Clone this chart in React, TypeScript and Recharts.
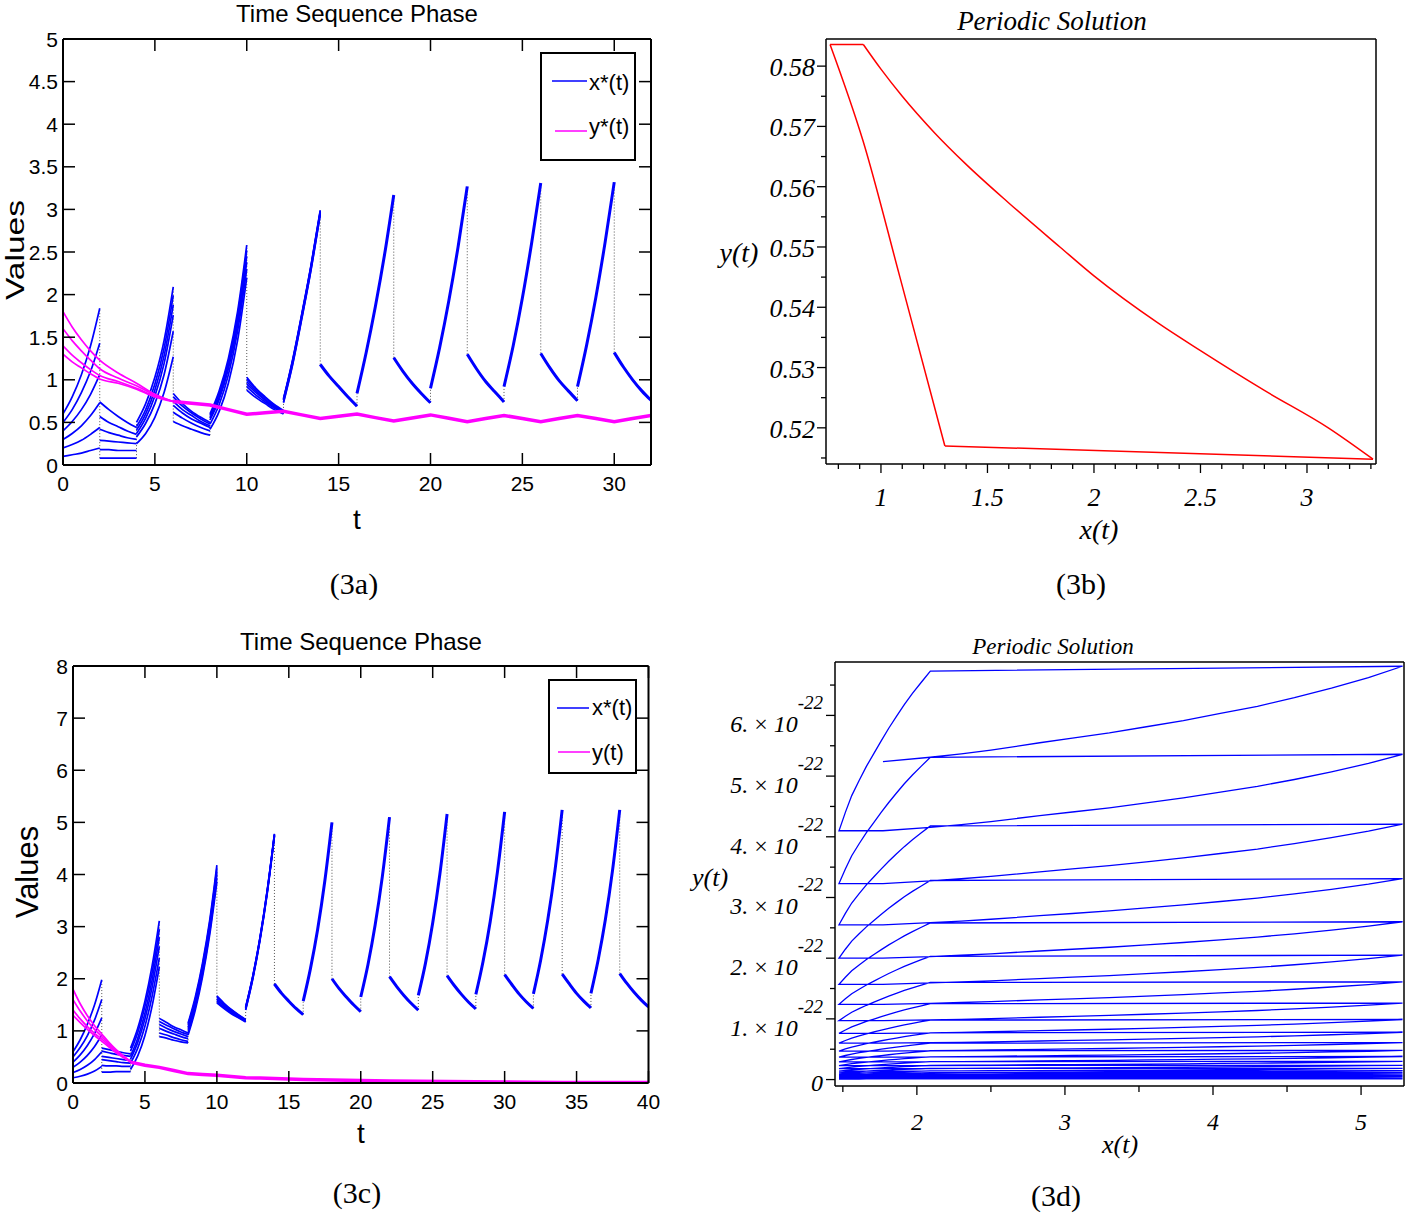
import React from 'react';
import { LineChart, Line, XAxis, YAxis } from 'recharts';

const SANS = '"Liberation Sans", Arial, Helvetica, sans-serif';
const SERIF = '"Liberation Serif", "Times New Roman", Times, serif';
const BLUE = '#0000ff';
const MAGENTA = '#ff00ff';
const RED = '#ff0000';
const DOT_GRAY = '#555555';

// sample offsets inside every 2-unit impulse interval
const SEG_STEPS = [0, 0.5, 1, 1.5, 2];

// ---------------- (3a) ----------------
const A_T_TICKS = [0, 5, 10, 15, 20, 25, 30];
const A_V_TICKS = [0, 0.5, 1, 1.5, 2, 2.5, 3, 3.5, 4, 4.5, 5];
const A_X_SEGMENTS = [
  { t0: 0, curves: [[0.60, 0.80, 1.06, 1.40, 1.84], [0.50, 0.65, 0.85, 1.10, 1.43], [0.40, 0.51, 0.65, 0.83, 1.06], [0.30, 0.37, 0.46, 0.58, 0.73], [0.20, 0.24, 0.29, 0.36, 0.44], [0.10, 0.12, 0.14, 0.17, 0.20]] },
  { t0: 2, curves: [[0.74, 0.65, 0.57, 0.50, 0.44], [0.57, 0.50, 0.45, 0.40, 0.36], [0.42, 0.38, 0.35, 0.32, 0.30], [0.29, 0.28, 0.27, 0.26, 0.25], [0.18, 0.18, 0.17, 0.17, 0.17], [0.08, 0.08, 0.08, 0.08, 0.08]] },
  { t0: 4, curves: [[0.50, 0.72, 1.03, 1.46, 2.09], [0.45, 0.65, 0.95, 1.37, 1.99], [0.41, 0.60, 0.88, 1.28, 1.88], [0.37, 0.55, 0.81, 1.19, 1.76], [0.33, 0.49, 0.72, 1.06, 1.57], [0.25, 0.37, 0.56, 0.85, 1.27]] },
  { t0: 6, curves: [[0.84, 0.72, 0.63, 0.56, 0.50], [0.80, 0.69, 0.61, 0.54, 0.48], [0.75, 0.65, 0.58, 0.51, 0.46], [0.70, 0.61, 0.54, 0.49, 0.44], [0.62, 0.55, 0.49, 0.44, 0.40], [0.51, 0.46, 0.42, 0.38, 0.35]] },
  { t0: 8, curves: [[0.60, 0.87, 1.25, 1.80, 2.58], [0.58, 0.84, 1.21, 1.75, 2.52], [0.55, 0.80, 1.17, 1.70, 2.45], [0.53, 0.77, 1.13, 1.64, 2.38], [0.48, 0.71, 1.06, 1.57, 2.30], [0.42, 0.63, 0.96, 1.46, 2.20]] },
  { t0: 10, curves: [[1.03, 0.90, 0.80, 0.71, 0.64], [1.01, 0.89, 0.79, 0.70, 0.63], [0.98, 0.87, 0.77, 0.69, 0.63], [0.95, 0.85, 0.76, 0.68, 0.62], [0.92, 0.82, 0.74, 0.67, 0.61], [0.88, 0.79, 0.72, 0.65, 0.60]] },
  { t0: 12, curves: [[0.78, 1.24, 1.78, 2.35, 2.99], [0.77, 1.23, 1.77, 2.34, 2.98], [0.77, 1.22, 1.76, 2.33, 2.97], [0.76, 1.21, 1.75, 2.32, 2.96], [0.74, 1.19, 1.73, 2.30, 2.95], [0.73, 1.18, 1.72, 2.29, 2.94]] },
  { t0: 14, curves: [[1.18, 1.04, 0.92, 0.80, 0.69]] },
  { t0: 16, curves: [[0.84, 1.32, 1.86, 2.47, 3.17]] },
  { t0: 18, curves: [[1.26, 1.10, 0.96, 0.84, 0.73]] },
  { t0: 20, curves: [[0.90, 1.38, 1.93, 2.56, 3.27]] },
  { t0: 22, curves: [[1.30, 1.13, 0.98, 0.86, 0.74]] },
  { t0: 24, curves: [[0.92, 1.40, 1.96, 2.60, 3.31]] },
  { t0: 26, curves: [[1.31, 1.14, 0.99, 0.87, 0.755]] },
  { t0: 28, curves: [[0.92, 1.41, 1.97, 2.61, 3.32]] },
  { t0: 30, curves: [[1.32, 1.15, 1.00, 0.87, 0.76]] },
];
const A_Y_T = [0, 0.5, 1, 1.5, 2, 3, 4, 5, 6];
const A_Y_CURVES = [
  [1.80, 1.62, 1.47, 1.34, 1.23, 1.08, 0.96, 0.83, 0.745],
  [1.60, 1.46, 1.34, 1.23, 1.13, 1.02, 0.93, 0.82, 0.745],
  [1.40, 1.29, 1.20, 1.12, 1.05, 0.98, 0.90, 0.81, 0.745],
  [1.30, 1.21, 1.14, 1.07, 1.01, 0.96, 0.89, 0.80, 0.745],
];
const A_Y_TAIL_T = [6, 7, 8, 9, 10, 11, 12, 13, 14, 15, 16, 17, 18, 19, 20, 21, 22, 23, 24, 25, 26, 27, 28, 29, 30, 31, 32];
const A_Y_TAIL = [0.745, 0.725, 0.705, 0.65, 0.595, 0.613, 0.63, 0.588, 0.545, 0.572, 0.597, 0.556, 0.516, 0.552, 0.588, 0.548, 0.509, 0.545, 0.582, 0.545, 0.509, 0.545, 0.582, 0.545, 0.509, 0.545, 0.582];

// ---------------- (3c) ----------------
const C_T_TICKS = [0, 5, 10, 15, 20, 25, 30, 35, 40];
const C_V_TICKS = [0, 1, 2, 3, 4, 5, 6, 7, 8];
const C_X_SEGMENTS = [
  { t0: 0, curves: [[0.60, 0.83, 1.13, 1.50, 1.98], [0.50, 0.68, 0.91, 1.21, 1.60], [0.40, 0.54, 0.72, 0.95, 1.25], [0.30, 0.40, 0.53, 0.70, 0.92], [0.20, 0.26, 0.34, 0.45, 0.60], [0.10, 0.13, 0.17, 0.23, 0.32]] },
  { t0: 2, curves: [[0.67, 0.64, 0.61, 0.58, 0.56], [0.61, 0.58, 0.55, 0.53, 0.51], [0.51, 0.49, 0.47, 0.45, 0.43], [0.45, 0.43, 0.41, 0.39, 0.38], [0.34, 0.33, 0.33, 0.32, 0.32], [0.21, 0.21, 0.22, 0.22, 0.22]] },
  { t0: 4, curves: [[0.67, 1.05, 1.57, 2.25, 3.11], [0.61, 0.97, 1.47, 2.12, 2.95], [0.52, 0.86, 1.34, 1.98, 2.80], [0.46, 0.78, 1.23, 1.84, 2.62], [0.38, 0.67, 1.09, 1.67, 2.40], [0.26, 0.52, 0.91, 1.48, 2.23]] },
  { t0: 6, curves: [[1.24, 1.16, 1.08, 1.02, 0.96], [1.18, 1.11, 1.04, 0.98, 0.93], [1.12, 1.05, 0.99, 0.94, 0.89], [1.05, 0.99, 0.94, 0.89, 0.85], [0.96, 0.92, 0.87, 0.83, 0.80], [0.89, 0.86, 0.82, 0.79, 0.77]] },
  { t0: 8, curves: [[1.15, 1.65, 2.30, 3.12, 4.18], [1.12, 1.61, 2.25, 3.07, 4.12], [1.07, 1.56, 2.20, 3.01, 4.06], [1.02, 1.51, 2.15, 2.96, 4.00], [0.96, 1.45, 2.09, 2.90, 3.93], [0.92, 1.40, 2.03, 2.84, 3.86]] },
  { t0: 10, curves: [[1.67, 1.53, 1.41, 1.31, 1.22], [1.65, 1.52, 1.40, 1.30, 1.21], [1.62, 1.49, 1.38, 1.29, 1.20], [1.60, 1.48, 1.37, 1.28, 1.19], [1.57, 1.45, 1.35, 1.26, 1.18], [1.54, 1.43, 1.33, 1.25, 1.17]] },
  { t0: 12, curves: [[1.46, 2.06, 2.80, 3.70, 4.78], [1.45, 2.05, 2.79, 3.69, 4.77], [1.44, 2.04, 2.78, 3.68, 4.76], [1.43, 2.03, 2.77, 3.67, 4.75], [1.41, 2.01, 2.75, 3.65, 4.74], [1.40, 2.00, 2.74, 3.64, 4.73]] },
  { t0: 14, curves: [[1.90, 1.72, 1.57, 1.43, 1.31]] },
  { t0: 16, curves: [[1.57, 2.19, 2.94, 3.87, 5.00]] },
  { t0: 18, curves: [[2.00, 1.81, 1.65, 1.50, 1.37]] },
  { t0: 20, curves: [[1.65, 2.27, 3.03, 3.96, 5.10]] },
  { t0: 22, curves: [[2.04, 1.85, 1.68, 1.53, 1.40]] },
  { t0: 24, curves: [[1.68, 2.30, 3.07, 4.01, 5.16]] },
  { t0: 26, curves: [[2.06, 1.87, 1.70, 1.55, 1.42]] },
  { t0: 28, curves: [[1.70, 2.33, 3.10, 4.05, 5.20]] },
  { t0: 30, curves: [[2.08, 1.89, 1.71, 1.56, 1.43]] },
  { t0: 32, curves: [[1.71, 2.35, 3.13, 4.08, 5.24]] },
  { t0: 34, curves: [[2.09, 1.90, 1.72, 1.57, 1.44]] },
  { t0: 36, curves: [[1.72, 2.36, 3.13, 4.08, 5.24]] },
  { t0: 38, curves: [[2.10, 1.91, 1.74, 1.59, 1.46]] },
];
const C_Y_T = [0, 0.5, 1, 1.5, 2, 2.5, 3, 3.5, 4];
const C_Y_CURVES = [
  [1.80, 1.52, 1.29, 1.10, 0.94, 0.78, 0.64, 0.52, 0.42],
  [1.60, 1.38, 1.19, 1.03, 0.89, 0.75, 0.62, 0.51, 0.41],
  [1.40, 1.23, 1.08, 0.95, 0.84, 0.72, 0.60, 0.50, 0.41],
  [1.30, 1.16, 1.03, 0.91, 0.80, 0.69, 0.58, 0.49, 0.40],
];
const C_Y_TAIL_T = [4, 5, 6, 7, 8, 9, 10, 11, 12, 13, 14, 16, 18, 20, 22, 24, 26, 28, 30, 32, 34, 36, 38, 40];
const C_Y_TAIL = [0.40, 0.34, 0.30, 0.24, 0.18, 0.165, 0.15, 0.125, 0.10, 0.095, 0.085, 0.068, 0.056, 0.046, 0.038, 0.032, 0.027, 0.022, 0.018, 0.015, 0.012, 0.010, 0.009, 0.008];

// ---------------- (3b) ----------------
const B_UPPER_X = [0.917, 1.0, 1.1, 1.25, 1.4, 1.6, 1.84, 2.0, 2.3, 2.5, 2.8, 3.1, 3.31];
const B_UPPER_Y = [0.5836, 0.5795, 0.5750, 0.5690, 0.5637, 0.5573, 0.5500, 0.5452, 0.5374, 0.5328, 0.5262, 0.5200, 0.5148];
const B_LEFT_X = [0.761, 0.915, 1.089, 1.30];
const B_LEFT_Y = [0.5836, 0.5677, 0.5450, 0.5170];
const B_X_TICKS = [0.8, 0.9, 1, 1.1, 1.2, 1.3, 1.4, 1.5, 1.6, 1.7, 1.8, 1.9, 2, 2.1, 2.2, 2.3, 2.4, 2.5, 2.6, 2.7, 2.8, 2.9, 3, 3.1, 3.2, 3.3];
const B_Y_TICKS = [0.515, 0.52, 0.525, 0.53, 0.535, 0.54, 0.545, 0.55, 0.555, 0.56, 0.565, 0.57, 0.575, 0.58];

// ---------------- (3d) ----------------  (y values in units of 10^-22)
const D_LEVEL_B = [5.24, 4.10, 3.23, 2.55, 2.00, 1.57, 1.24, 0.97, 0.76, 0.60, 0.47, 0.37, 0.29, 0.23, 0.18, 0.14, 0.11, 0.087, 0.068, 0.054, 0.042, 0.033, 0.026, 0.021, 0.016, 0.013, 0.010, 0.008];
const D_LEVEL_D = [6.81, 5.36, 4.21, 3.31, 2.60, 2.05, 1.61, 1.26, 0.99, 0.78, 0.61, 0.48, 0.38, 0.30, 0.235, 0.185, 0.145, 0.114, 0.090, 0.070, 0.055, 0.043, 0.034, 0.027, 0.021, 0.017, 0.013];
const D_LEVEL_A = [6.73, 5.31, 4.18, 3.28, 2.58, 2.03, 1.60, 1.25, 0.98, 0.77, 0.60, 0.475, 0.375, 0.295, 0.232, 0.183, 0.143, 0.113, 0.089, 0.069, 0.054, 0.042, 0.033, 0.026, 0.021, 0.016, 0.013];
const D_RISE_X = [1.771, 2.091, 2.3, 2.5, 2.83, 3.05, 3.3, 3.55, 3.8, 4.05, 4.3, 4.55, 4.8, 5.05, 5.28];
const D_RISE_FRAC = [0, 0.045, 0.08, 0.12, 0.197, 0.245, 0.3, 0.365, 0.43, 0.505, 0.58, 0.67, 0.77, 0.88, 1];
const D_DECAY_X = [2.091, 2.03, 1.97, 1.915, 1.861, 1.81, 1.76, 1.71, 1.659, 1.61, 1.56, 1.517, 1.474];
const D_DECAY_FRAC = [1, 0.93, 0.86, 0.79, 0.715, 0.642, 0.565, 0.485, 0.403, 0.315, 0.22, 0.115, 0];
const D_X_TICKS = [1.5, 2, 2.5, 3, 3.5, 4, 4.5, 5];
const D_Y_TICKS = [0, 0.5, 1, 1.5, 2, 2.5, 3, 3.5, 4, 4.5, 5, 5.5, 6, 6.5];

// ---------- builders ----------
type Seg = { t0: number; curves: number[][] };

function segLines(segs: Seg[]) {
  const out: { key: string; data: { t: number; v: number }[]; width: number }[] = [];
  segs.forEach((s, si) =>
    s.curves.forEach((c, ci) =>
      out.push({
        key: `s${si}c${ci}`,
        data: c.map((v, i) => ({ t: s.t0 + SEG_STEPS[i], v })),
        width: s.curves.length > 1 ? 1.7 : 3,
      })
    )
  );
  return out;
}

function jumpLines(segs: Seg[]) {
  const out: { key: string; data: { t: number; v: number }[] }[] = [];
  for (let i = 1; i < segs.length; i++) {
    const prev = segs[i - 1];
    const next = segs[i];
    const vals = [...prev.curves.map((c) => c[c.length - 1]), ...next.curves.map((c) => c[0])];
    out.push({
      key: `j${i}`,
      data: [
        { t: next.t0, v: Math.min(...vals) },
        { t: next.t0, v: Math.max(...vals) },
      ],
    });
  }
  return out;
}

function yCurves(ts: number[], curves: number[][], tailT: number[], tail: number[]) {
  const out: { key: string; data: { t: number; v: number }[]; width: number; type: string }[] = [];
  curves.forEach((c, ci) =>
    out.push({ key: `m${ci}`, data: c.map((v, i) => ({ t: ts[i], v })), width: 1.7, type: 'monotone' })
  );
  out.push({ key: 'mtail', data: tail.map((v, i) => ({ t: tailT[i], v })), width: 3.5, type: 'linear' });
  return out;
}

const pairs = (xs: number[], ys: number[]) => xs.map((x, i) => ({ x, y: ys[i] }));

function bSeries() {
  const upper = pairs(B_UPPER_X, B_UPPER_Y);
  const left = pairs(B_LEFT_X, B_LEFT_Y);
  return [
    { key: 'top', type: 'linear', data: [left[0], upper[0]] },
    { key: 'upper', type: 'monotone', data: upper },
    { key: 'bottom', type: 'linear', data: [upper[upper.length - 1], left[left.length - 1]] },
    { key: 'left', type: 'monotone', data: left },
  ];
}

function dSeries() {
  const pts: { x: number; y: number }[] = [];
  for (let k = 0; k < D_LEVEL_D.length; k++) {
    const b = D_LEVEL_B[k];
    const d = D_LEVEL_D[k];
    D_RISE_X.forEach((x, i) => pts.push({ x, y: b + (d - b) * D_RISE_FRAC[i] }));
    const a = D_LEVEL_A[k];
    const b2 = D_LEVEL_B[k + 1];
    D_DECAY_X.forEach((x, i) => pts.push({ x, y: b2 + (a - b2) * D_DECAY_FRAC[i] }));
  }
  return [{ key: 'orbit', type: 'linear', data: pts }];
}

// ---------- tick renderer ----------
type TickOpts = {
  side: 'bottom' | 'top' | 'left' | 'right';
  inward?: boolean;
  majorLen: number;
  minorLen?: number;
  isMajor?: (v: number) => boolean;
  label?: (v: number) => any;
  labelOffset?: number;
  baseline?: (v: number) => number;
  font?: any;
  stroke?: number;
};

const makeTick = (o: TickOpts) => (p: any) => {
  const { x, y, payload } = p;
  const v = payload.value;
  const major = o.isMajor ? o.isMajor(v) : true;
  const len = major ? o.majorLen : o.minorLen || 0;
  const d = o.inward ? -1 : 1;
  let x2 = x;
  let y2 = y;
  if (o.side === 'bottom') y2 = y + d * len;
  if (o.side === 'top') y2 = y - d * len;
  if (o.side === 'left') x2 = x - d * len;
  if (o.side === 'right') x2 = x + d * len;
  const lbl = major && o.label ? o.label(v) : null;
  let text: any = null;
  if (lbl !== null && lbl !== undefined) {
    if (o.side === 'bottom') {
      text = (
        <text x={x} y={y + (o.labelOffset || 0)} textAnchor="middle" {...o.font}>
          {lbl}
        </text>
      );
    } else if (o.side === 'left') {
      text = (
        <text x={x - (o.labelOffset || 0)} y={y + (o.baseline ? o.baseline(v) : 0)} textAnchor="end" {...o.font}>
          {lbl}
        </text>
      );
    }
  }
  return (
    <g>
      {len > 0 && <line x1={x} y1={y} x2={x2} y2={y2} stroke="#000" strokeWidth={o.stroke || 1.5} />}
      {text}
    </g>
  );
};

const emptyTick = () => <g />;

const gnuFont = { fontFamily: SANS, fontSize: 21, fill: '#000' };
const mapleFont = { fontFamily: SERIF, fontSize: 26, fontStyle: 'italic', fill: '#000' };
const mapleFontD = { fontFamily: SERIF, fontSize: 24, fontStyle: 'italic', fill: '#000' };

const fmtPlain = (v: number) => String(Math.round(v * 100) / 100);
const half = (v: number) => Math.abs(v * 2 - Math.round(v * 2)) < 1e-6;
const hundredth = (v: number) => Math.abs(v * 100 - Math.round(v * 100)) < 1e-6;
const integer = (v: number) => Math.abs(v - Math.round(v)) < 1e-6;

const gnuBottom = makeTick({ side: 'bottom', inward: true, majorLen: 12, label: fmtPlain, labelOffset: 26, font: gnuFont, stroke: 1.5 });
const gnuTop = makeTick({ side: 'top', inward: true, majorLen: 12, stroke: 1.5 });
const gnuLeft = makeTick({ side: 'left', inward: true, majorLen: 12, label: fmtPlain, labelOffset: 5, baseline: () => 7.5, font: gnuFont, stroke: 1.5 });
const gnuRight = makeTick({ side: 'right', inward: true, majorLen: 12, stroke: 1.5 });

const bBottom = makeTick({ side: 'bottom', majorLen: 9, minorLen: 5, isMajor: half, label: fmtPlain, labelOffset: 42, font: mapleFont, stroke: 1.3 });
const bLeft = makeTick({ side: 'left', majorLen: 9, minorLen: 5, isMajor: hundredth, label: (v) => v.toFixed(2), labelOffset: 11, baseline: () => 10, font: mapleFont, stroke: 1.3 });

const dBottom = makeTick({ side: 'bottom', majorLen: 9, minorLen: 6, isMajor: integer, label: fmtPlain, labelOffset: 44, font: mapleFontD, stroke: 1.3 });
const dLeft = makeTick({
  side: 'left',
  majorLen: 9,
  minorLen: 5,
  isMajor: integer,
  label: (v) =>
    Math.round(v) === 0 ? (
      '0'
    ) : (
      <>
        <tspan>{`${Math.round(v)}. `}</tspan>
        <tspan fontStyle="normal">×</tspan>
        <tspan>{' 10'}</tspan>
        <tspan dy={-23} fontSize={19}>
          -22
        </tspan>
      </>
    ),
  labelOffset: 12,
  baseline: (v) => (Math.round(v) === 0 ? 11 : 17),
  font: { fontFamily: SERIF, fontSize: 24, fontStyle: 'italic', fill: '#000' },
  stroke: 1.3,
});

const gnuAxisLine = { stroke: '#000', strokeWidth: 2 };
const mapleAxisLine = { stroke: '#000', strokeWidth: 1.5 };

const common = { tickLine: false, tickSize: 0, tickMargin: 0, interval: 0 as any, allowDataOverflow: true, type: 'number' as const };

// ---------- panels ----------
function TimePanel(props: {
  left: number; top: number; width: number; height: number;
  margin: any; yWidth: number; xHeight: number;
  xDomain: number[]; yDomain: number[]; xTicks: number[]; yTicks: number[];
  segs: Seg[]; yLines: any[];
}) {
  const { segs, yLines } = props;
  const xl = segLines(segs);
  const jl = jumpLines(segs);
  return (
    <div style={{ position: 'absolute', left: props.left, top: props.top }}>
      <LineChart width={props.width} height={props.height} margin={props.margin}>
        <XAxis xAxisId="b" dataKey="t" {...common} domain={props.xDomain} ticks={props.xTicks} height={props.xHeight} axisLine={gnuAxisLine} tick={gnuBottom} />
        <XAxis xAxisId="t" orientation="top" dataKey="t" {...common} domain={props.xDomain} ticks={props.xTicks} height={1} axisLine={gnuAxisLine} tick={gnuTop} />
        <YAxis yAxisId="l" {...common} domain={props.yDomain} ticks={props.yTicks} width={props.yWidth} axisLine={gnuAxisLine} tick={gnuLeft} />
        <YAxis yAxisId="r" orientation="right" {...common} domain={props.yDomain} ticks={props.yTicks} width={1} axisLine={gnuAxisLine} tick={gnuRight} />
        {jl.map((l) => (
          <Line key={l.key} xAxisId="b" yAxisId="l" data={l.data} dataKey="v" type="linear" stroke={DOT_GRAY} strokeWidth={1} strokeDasharray="1 2" dot={false} activeDot={false} isAnimationActive={false} legendType="none" />
        ))}
        {xl.map((l) => (
          <Line key={l.key} xAxisId="b" yAxisId="l" data={l.data} dataKey="v" type="monotone" stroke={BLUE} strokeWidth={l.width} dot={false} activeDot={false} isAnimationActive={false} legendType="none" />
        ))}
        {yLines.map((l) => (
          <Line key={l.key} xAxisId="b" yAxisId="l" data={l.data} dataKey="v" type={l.type} stroke={MAGENTA} strokeWidth={l.width} dot={false} activeDot={false} isAnimationActive={false} legendType="none" />
        ))}
      </LineChart>
    </div>
  );
}

function PhasePanel(props: {
  left: number; top: number; width: number; height: number;
  margin: any; yWidth: number; xHeight: number;
  xDomain: number[]; yDomain: number[]; xTicks: number[]; yTicks: number[];
  series: { key: string; type: string; data: { x: number; y: number }[] }[];
  color: string; strokeWidth: number;
  bottomTick: any; leftTick: any;
}) {
  return (
    <div style={{ position: 'absolute', left: props.left, top: props.top }}>
      <LineChart width={props.width} height={props.height} margin={props.margin}>
        <XAxis xAxisId="b" dataKey="x" {...common} domain={props.xDomain} ticks={props.xTicks} height={props.xHeight} axisLine={mapleAxisLine} tick={props.bottomTick} />
        <XAxis xAxisId="t" orientation="top" dataKey="x" {...common} domain={props.xDomain} ticks={props.xTicks} height={1} axisLine={mapleAxisLine} tick={emptyTick} />
        <YAxis yAxisId="l" {...common} domain={props.yDomain} ticks={props.yTicks} width={props.yWidth} axisLine={mapleAxisLine} tick={props.leftTick} />
        <YAxis yAxisId="r" orientation="right" {...common} domain={props.yDomain} ticks={props.yTicks} width={1} axisLine={mapleAxisLine} tick={emptyTick} />
        {props.series.map((s) => (
          <Line key={s.key} xAxisId="b" yAxisId="l" data={s.data} dataKey="y" type={s.type as any} stroke={props.color} strokeWidth={props.strokeWidth} dot={false} activeDot={false} isAnimationActive={false} legendType="none" />
        ))}
      </LineChart>
    </div>
  );
}

function Overlay() {
  const t = (x: number, y: number, s: string, size: number, family: string, extra: any = {}) => (
    <text x={x} y={y} fontSize={size} fontFamily={family} fill="#000" textAnchor="middle" {...extra}>
      {s}
    </text>
  );
  return (
    <svg width={1408} height={1215} style={{ position: 'absolute', left: 0, top: 0, pointerEvents: 'none' }}>
      {/* 3a */}
      {t(357, 22, 'Time Sequence Phase', 24, SANS)}
      <text transform="translate(23.5,250) rotate(-90)" fontSize={25} textLength={100} lengthAdjust="spacingAndGlyphs" fontFamily={SANS} textAnchor="middle" fill="#000">Values</text>
      {t(357, 529, 't', 28, SANS)}
      {t(354, 594, '(3a)', 30, SERIF)}
      <rect x={541} y={53} width={94} height={107} fill="#fff" stroke="#000" strokeWidth={2} />
      <line x1={552} y1={81} x2={587} y2={81} stroke={BLUE} strokeWidth={1.5} />
      <text x={589} y={90} fontSize={22} fontFamily={SANS} fill="#000">x*(t)</text>
      <line x1={555} y1={131} x2={587} y2={131} stroke={MAGENTA} strokeWidth={1.5} />
      <text x={589} y={134} fontSize={22} fontFamily={SANS} fill="#000">y*(t)</text>

      {/* 3b */}
      {t(1052, 30, 'Periodic Solution', 27, SERIF, { fontStyle: 'italic' })}
      {t(1099, 539, 'x(t)', 28, SERIF, { fontStyle: 'italic' })}
      {t(739, 262, 'y(t)', 28, SERIF, { fontStyle: 'italic' })}
      {t(1081, 594, '(3b)', 30, SERIF)}

      {/* 3c */}
      {t(361, 650, 'Time Sequence Phase', 24, SANS)}
      <text transform="translate(38,872) rotate(-90)" fontSize={31} fontFamily={SANS} textAnchor="middle" fill="#000">Values</text>
      {t(361, 1143, 't', 28, SANS)}
      {t(357, 1203, '(3c)', 30, SERIF)}
      <rect x={549} y={680} width={87} height={93} fill="#fff" stroke="#000" strokeWidth={2} />
      <line x1={557} y1={708} x2={589} y2={708} stroke={BLUE} strokeWidth={1.5} />
      <text x={592} y={715} fontSize={22} fontFamily={SANS} fill="#000">x*(t)</text>
      <line x1={558} y1={752} x2={590} y2={752} stroke={MAGENTA} strokeWidth={1.5} />
      <text x={592} y={760} fontSize={22} fontFamily={SANS} fill="#000">y(t)</text>

      {/* 3d */}
      {t(1053, 654, 'Periodic Solution', 23, SERIF, { fontStyle: 'italic' })}
      {t(1120, 1153, 'x(t)', 26, SERIF, { fontStyle: 'italic' })}
      {t(710, 886, 'y(t)', 26, SERIF, { fontStyle: 'italic' })}
      {t(1056, 1206, '(3d)', 30, SERIF)}
    </svg>
  );
}

export default function App() {
  const aY = yCurves(A_Y_T, A_Y_CURVES, A_Y_TAIL_T, A_Y_TAIL);
  const cY = yCurves(C_Y_T, C_Y_CURVES, C_Y_TAIL_T, C_Y_TAIL);
  return (
    <div style={{ position: 'absolute', left: 0, top: 0, width: 1408, height: 1215, background: '#fff', overflow: 'hidden' }}>
      <TimePanel left={0} top={0} width={700} height={520} margin={{ top: 38, right: 48, bottom: 0, left: 0 }} yWidth={63} xHeight={55}
        xDomain={[0, 32]} yDomain={[0, 5]} xTicks={A_T_TICKS} yTicks={A_V_TICKS} segs={A_X_SEGMENTS} yLines={aY} />
      <TimePanel left={0} top={600} width={700} height={540} margin={{ top: 65, right: 50.5, bottom: 0, left: 0 }} yWidth={73} xHeight={57}
        xDomain={[0, 40]} yDomain={[0, 8]} xTicks={C_T_TICKS} yTicks={C_V_TICKS} segs={C_X_SEGMENTS} yLines={cY} />
      <PhasePanel left={700} top={0} width={708} height={560} margin={{ top: 38, right: 31, bottom: 0, left: 0 }} yWidth={126} xHeight={96}
        xDomain={[0.742, 3.324]} yDomain={[0.514, 0.5845]} xTicks={B_X_TICKS} yTicks={B_Y_TICKS}
        series={bSeries()} color={RED} strokeWidth={1.5} bottomTick={bBottom} leftTick={bLeft} />
      <PhasePanel left={700} top={600} width={708} height={600} margin={{ top: 61, right: 3, bottom: 0, left: 0 }} yWidth={135} xHeight={114}
        xDomain={[1.447, 5.29]} yDomain={[-0.106, 6.88]} xTicks={D_X_TICKS} yTicks={D_Y_TICKS}
        series={dSeries()} color={BLUE} strokeWidth={1.3} bottomTick={dBottom} leftTick={dLeft} />
      <Overlay />
    </div>
  );
}
